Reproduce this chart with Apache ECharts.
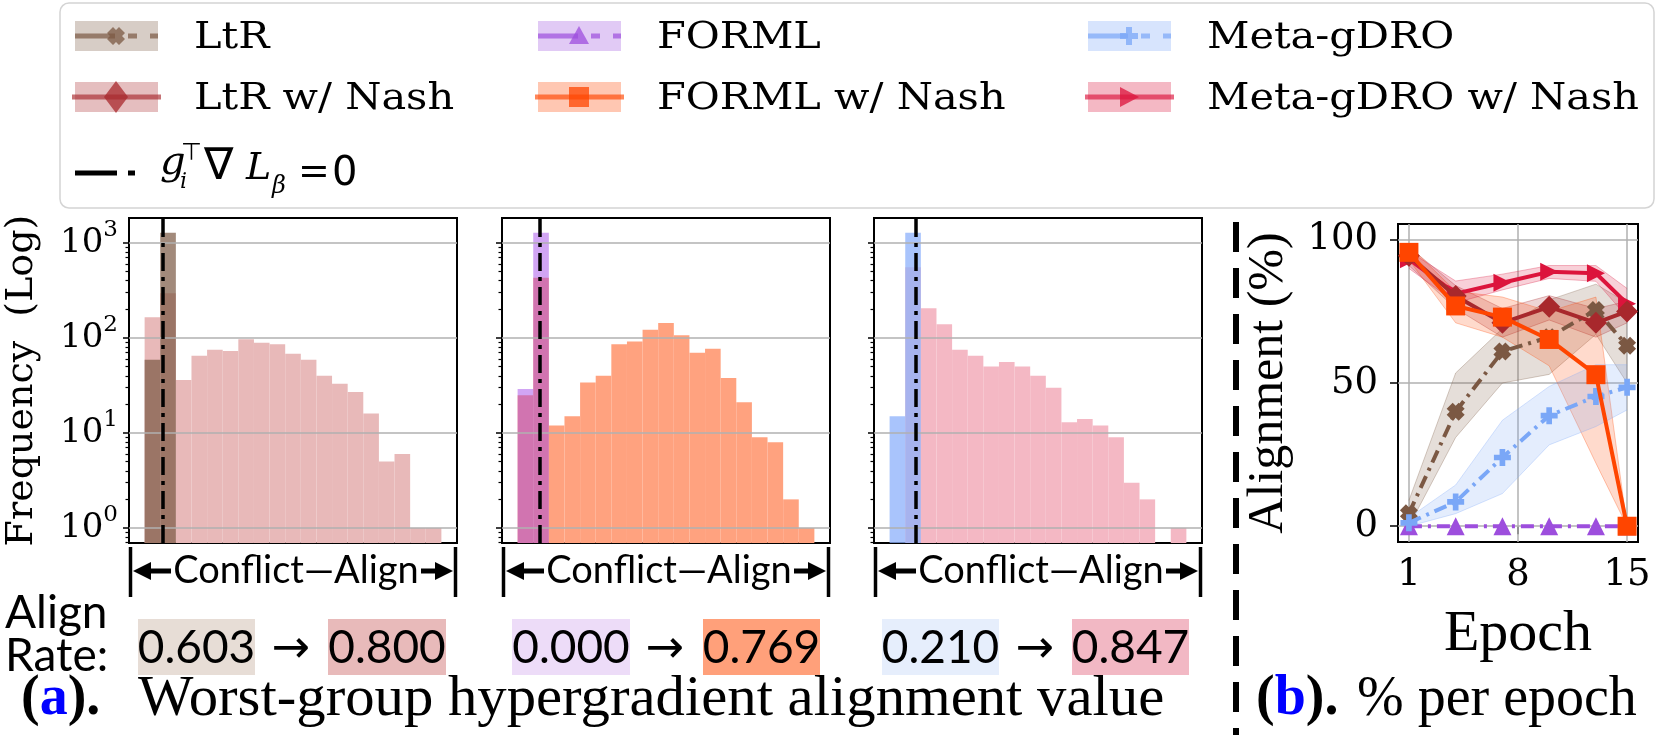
<!DOCTYPE html>
<html><head><meta charset="utf-8">
<script src="https://cdn.jsdelivr.net/npm/echarts@6/dist/echarts.min.js"></script>
<style>html,body{margin:0;padding:0;background:#fff;}#c{width:1661px;height:735px;}</style>
</head><body><div id="c"></div>
<script>
// ================= DATA =================
const methods = ['LtR', 'LtR w/ Nash', 'FORML', 'FORML w/ Nash', 'Meta-gDRO', 'Meta-gDRO w/ Nash'];
// histogram counts per bin (19 bins, null = empty)
const ltrCounts       = [59, 1280];
const ltrNashCounts   = [165, 295, 36, 65, 75, 73, 97, 89, 86, 68, 59, 40, 33, 27, 16, 5, 6, 1, 1];
const formlCounts     = [29, 1280];
const formlNashCounts = [25, 431, 12, 15, 34, 40, 86, 92, 122, 144, 107, 70, 77, 38, 21, 9, 8, 2, 1];
const metaCounts      = [15, 1280];
const metaNashCounts  = [null, 555, 205, 139, 75, 65, 50, 56, 50, 40, 30, 13, 14, 12, 9, 3, 2, null, 1];
const zeroBinPos = [2.13, 2.39, 2.65];          // position of g^T dL = 0 (bin units)
const histMajorTicks = [1, 10, 100, 1000];
const histMinorTicks = [0.7, 0.8, 0.9, 2, 3, 4, 5, 6, 7, 8, 9, 20, 30, 40, 50, 60, 70, 80, 90, 200, 300, 400, 500, 600, 700, 800, 900];
const alignBefore = ['0.603', '0.000', '0.210'];
const alignAfter  = ['0.800', '0.769', '0.847'];

// alignment % per epoch
const epochs = [1, 4, 7, 10, 13, 15];
const ltrAlign       = [4.5, 40, 61, 66, 75.5, 63];
const ltrLo          = [0, 31, 50, 53, 67, 50];
const ltrHi          = [9, 53.5, 69, 79, 84.5, 78];
const ltrNashAlign   = [94.4, 80.4, 71, 76.6, 71, 75];
const ltrNashLo      = [91, 76, 66, 72, 66, 71];
const ltrNashHi      = [97.5, 84, 76, 80.5, 76, 78.5];
const formlAlign     = [0, 0, 0, 0, 0, 0];
const formlNashAlign = [95.6, 76.9, 73, 65.2, 52.9, 0];
const formlNashLo    = [93, 71, 66, 56, 22, 0];
const formlNashHi    = [98, 82, 80, 75, 80, 0];
const metaAlign      = [1.2, 8.5, 24, 38.6, 45.3, 48.5];
const metaLo         = [0, 4.4, 11.4, 28.4, 34.8, 40.6];
const metaHi         = [3, 14.4, 37, 48.8, 56.4, 56.4];
const metaNashAlign  = [93.2, 81.2, 85, 88.8, 88.3, 77.7];
const metaNashLo     = [90, 78, 82.5, 86.5, 85.5, 73];
const metaNashHi     = [96, 85.6, 88, 91, 91, 83];
const lineXTicks = [1, 8, 15];
const lineYTicks = [0, 50, 100];

// ================= STYLE / LAYOUT =================
const C = {ltr:'#7b5843', ltrNash:'#a8282c', forml:'#9d4edd', formlNash:'#ff4500', meta:'#7aa7f7', metaNash:'#dc143c'};
const HL = [129, 502, 874], HW = 328, HT = 218, HH = 325;
const YMIN = 0.695, YMAX = 1830;
const LGR = {left:1398, top:224, width:240, height:318};
const SERIF = '"DejaVu Serif"';

const chart = echarts.init(document.getElementById('c'), null, {renderer:'canvas', width:1661, height:735});

function gridBox(l, t, w, h) {
  return {left:l, top:t, width:w, height:h, show:true, borderColor:'#000', borderWidth:2,
          backgroundColor:'rgba(0,0,0,0)', containLabel:false, outerBoundsMode:'none'};
}
const grids = HL.map(l => gridBox(l, HT, HW, HH)).concat([gridBox(LGR.left, LGR.top, LGR.width, LGR.height)]);

const xAxes = [0, 1, 2].map(i => ({gridIndex:i, type:'value', min:0, max:21, show:false}));
xAxes.push({
  gridIndex:3, type:'value', min:0.3, max:15.7,
  axisLine:{show:false}, splitLine:{show:false},
  axisTick:{show:true, customValues:lineXTicks, length:8, lineStyle:{color:'#000', width:1.5}},
  axisLabel:{customValues:lineXTicks, margin:15, color:'#000', fontFamily:SERIF, fontSize:37},
  name:'Epoch', nameLocation:'middle', nameGap:64,
  nameTextStyle:{fontFamily:'"Liberation Serif"', fontSize:58, color:'#000'}
});

const yAxes = [];
[0, 1, 2].forEach(i => {
  yAxes.push({
    gridIndex:i, type:'log', logBase:10, min:YMIN, max:YMAX, position:'left',
    axisLine:{show:false}, axisTick:{show:false}, splitLine:{show:false},
    axisLabel:{show:i === 0, showMinLabel:false, showMaxLabel:false, margin:11,
      formatter: v => '{b|10}{s|' + Math.round(Math.log10(v)) + '}',
      rich:{b:{fontFamily:SERIF, fontSize:34, lineHeight:48, verticalAlign:'middle', color:'#000'},
            s:{fontFamily:SERIF, fontSize:23, lineHeight:26, verticalAlign:'top', color:'#000'}}},
    name: i === 0 ? 'Frequency  (Log)' : '', nameLocation:'middle', nameGap:88,
    nameTextStyle:{fontFamily:SERIF, fontSize:38, color:'#000'}
  });
  // tick helper axes (log-space linear axes used only for tick marks)
  yAxes.push({gridIndex:i, type:'value', min:Math.log10(YMIN), max:Math.log10(YMAX), position:'left',
    axisLine:{show:false}, splitLine:{show:false}, axisLabel:{show:false},
    axisTick:{show:true, customValues:histMajorTicks.map(Math.log10), length:6, lineStyle:{color:'#000', width:1.5}}});
  yAxes.push({gridIndex:i, type:'value', min:Math.log10(YMIN), max:Math.log10(YMAX), position:'left',
    axisLine:{show:false}, splitLine:{show:false}, axisLabel:{show:false},
    axisTick:{show:true, customValues:histMinorTicks.map(Math.log10), length:3.5, lineStyle:{color:'#000', width:1.2}}});
});
yAxes.push({
  gridIndex:3, type:'value', min:-5.5, max:105.5, position:'left',
  axisLine:{show:false}, splitLine:{show:false},
  axisTick:{show:true, customValues:lineYTicks, length:8, lineStyle:{color:'#000', width:1.5}},
  axisLabel:{customValues:lineYTicks, margin:20, color:'#000', fontFamily:SERIF, fontSize:37},
  name:'Alignment (%)', nameLocation:'middle', nameGap:104,
  nameTextStyle:{fontFamily:'"Liberation Serif"', fontSize:50, color:'#000'}
});

function histSeries(gi, counts, color, opacity, z, markLine) {
  const data = [];
  counts.forEach((v, i) => { if (v != null) data.push([i + 1, v]); });
  const s = {
    type:'custom', xAxisIndex:gi, yAxisIndex:gi * 3, z:z, silent:true, animation:false,
    data:data, encode:{x:0, y:1},
    renderItem: function (params, api) {
      const x0 = api.value(0), v = api.value(1);
      const p0 = api.coord([x0, v]);
      const p1 = api.coord([x0 + 1, v]);
      const bottom = params.coordSys.y + params.coordSys.height;
      return {type:'rect', shape:{x:p0[0], y:p0[1], width:p1[0] - p0[0], height:bottom - p0[1]},
              style:{fill:color, opacity:opacity}};
    }
  };
  if (markLine) s.markLine = markLine;
  return s;
}
function histMarks(gi) {
  return {
    silent:true, symbol:'none', animation:false, z:5,
    label:{show:false},
    lineStyle:{color:'#b0b0b0', width:1.5, type:'solid'},
    data: histMajorTicks.map(t => ({yAxis:t})).concat([
      {xAxis:zeroBinPos[gi], lineStyle:{color:'#000', width:3.5, type:[18, 6, 4, 6]}}])
  };
}

const series = [
  histSeries(0, ltrNashCounts, '#e8b9b9', 1, 2),
  histSeries(0, ltrCounts, C.ltr, 0.7, 3, histMarks(0)),
  histSeries(1, formlNashCounts, '#ffa27f', 1, 2),
  histSeries(1, formlCounts, '#9e40e7', 0.47, 3, histMarks(1)),
  histSeries(2, metaNashCounts, '#f4b8c4', 1, 2),
  histSeries(2, metaCounts, '#8eb2fb', 0.76, 3, histMarks(2))
];

// shaded std band between lo and hi, drawn through the cartesian scales
function bandSeries(lo, hi, color) {
  return {
    type:'custom', xAxisIndex:3, yAxisIndex:9, z:1, silent:true, animation:false,
    data: epochs.map((e, i) => [e, lo[i], hi[i]]), encode:{x:0, y:[1, 2]},
    renderItem: function (params, api) {
      if (params.dataIndex !== 0) return null;
      const upper = epochs.map((e, i) => api.coord([e, hi[i]]));
      const lower = epochs.map((e, i) => api.coord([e, lo[i]]));
      return {type:'group', children:[
        {type:'polygon', shape:{points:upper.concat(lower.slice().reverse())}, style:{fill:color, opacity:0.2}},
        {type:'polyline', shape:{points:upper}, style:{stroke:color, lineWidth:1, opacity:0.3, fill:'none'}},
        {type:'polyline', shape:{points:lower}, style:{stroke:color, lineWidth:1, opacity:0.3, fill:'none'}}
      ]};
    }
  };
}
function mainLine(name, vals, color, dash, symbol, size, rot, z, markLine) {
  const s = {type:'line', name:name, xAxisIndex:3, yAxisIndex:9, data:epochs.map((e, i) => [e, vals[i]]),
    symbol:symbol, symbolSize:size, symbolRotate:rot || 0, showSymbol:true, silent:true, animation:false,
    lineStyle:{color:color, width:4, type: dash ? [13, 6, 3, 6] : 'solid'},
    itemStyle:{color:color, borderWidth:0, opacity:1}, z:z, clip:false, emphasis:{disabled:true}};
  if (markLine) s.markLine = markLine;
  return s;
}
const PATH_X = 'path://M-1,-3L0,-2L1,-3L3,-1L2,0L3,1L1,3L0,2L-1,3L-3,1L-2,0L-3,-1Z';
const PATH_P = 'path://M-1,-3L1,-3L1,-1L3,-1L3,1L1,1L1,3L-1,3L-1,1L-3,1L-3,-1L-1,-1Z';
const lineGrid = {
  silent:true, symbol:'none', animation:false, z:0.5, label:{show:false},
  lineStyle:{color:'#b0b0b0', width:1.5, type:'solid'},
  data: lineXTicks.map(t => ({xAxis:t})).concat(lineYTicks.map(t => ({yAxis:t})))
};
series.push(bandSeries(ltrLo, ltrHi, C.ltr));
series.push(bandSeries(ltrNashLo, ltrNashHi, C.ltrNash));
series.push(bandSeries(formlNashLo, formlNashHi, C.formlNash));
series.push(bandSeries(metaLo, metaHi, C.meta));
series.push(bandSeries(metaNashLo, metaNashHi, C.metaNash));
series.push(mainLine(methods[5], metaNashAlign, C.metaNash, false, 'triangle', 18, -90, 3));
series.push(mainLine(methods[0], ltrAlign, C.ltr, true, PATH_X, 18, 0, 4));
series.push(mainLine(methods[1], ltrNashAlign, C.ltrNash, false, 'diamond', 22, 0, 5));
series.push(mainLine(methods[2], formlAlign, C.forml, true, 'triangle', 18, 0, 6, lineGrid));
series.push(mainLine(methods[4], metaAlign, C.meta, true, PATH_P, 17, 0, 7));
series.push(mainLine(methods[3], formlNashAlign, C.formlNash, false, 'rect', 19, 0, 8));

// ================= GRAPHIC ANNOTATIONS =================
const G = [];
function txt(x, y, text, font, o) {
  o = o || {};
  return {type:'text', x:x, y:y, scaleX:o.scaleX || 1, z:20, silent:true,
    style:{text:text, font:font, fill:o.fill || '#000', align:o.align || 'left', textAlign:o.align || 'left',
           verticalAlign:o.va || 'middle', textVerticalAlign:o.va || 'middle', rich:o.rich}};
}
function rect(x, y, w, h, fill, op, z) {
  return {type:'rect', shape:{x:x, y:y, width:w, height:h}, style:{fill:fill, opacity:op == null ? 1 : op}, z:z || 15, silent:true};
}
function poly(cx, cy, pts, fill, op) {
  return {type:'polygon', x:cx, y:cy, shape:{points:pts}, style:{fill:fill, opacity:op == null ? 1 : op}, z:17, silent:true};
}
// legend frame
G.push({type:'rect', shape:{x:60, y:3, width:1594, height:205, r:9}, style:{fill:'#fff', stroke:'#d4d4d4', lineWidth:1.5}, z:10, silent:true});
const legendCols = [75, 538, 1088], legendRows = [36, 97];
const markerPts = {
  x: [[-1,-3],[0,-2],[1,-3],[3,-1],[2,0],[3,1],[1,3],[0,2],[-1,3],[-3,1],[-2,0],[-3,-1]].map(p => [p[0] * 3, p[1] * 3]),
  plus: [[-1,-3],[1,-3],[1,-1],[3,-1],[3,1],[1,1],[1,3],[-1,3],[-1,1],[-3,1],[-3,-1],[-1,-1]].map(p => [p[0] * 3, p[1] * 3]),
  diamond: [[0,-16],[12,0],[0,16],[-12,0]],
  tri: [[0,-10],[10,8],[-10,8]],
  square: [[-10,-10],[10,-10],[10,10],[-10,10]],
  triR: [[10,0],[-9,-10],[-9,10]]
};
const legendItems = [
  {name:methods[0], col:0, row:0, color:C.ltr, dash:true, marker:'x'},
  {name:methods[1], col:0, row:1, color:C.ltrNash, dash:false, marker:'diamond'},
  {name:methods[2], col:1, row:0, color:C.forml, dash:true, marker:'tri'},
  {name:methods[3], col:1, row:1, color:C.formlNash, dash:false, marker:'square'},
  {name:methods[4], col:2, row:0, color:C.meta, dash:true, marker:'plus'},
  {name:methods[5], col:2, row:1, color:C.metaNash, dash:false, marker:'triR'}
];
legendItems.forEach(it => {
  const ix = legendCols[it.col], cy = legendRows[it.row];
  G.push(rect(ix, cy - 15, 83, 30, it.color, 0.3));
  if (it.dash) {
    G.push(rect(ix, cy - 2.5, 40, 5, it.color, 0.7));
    G.push(rect(ix + 53, cy - 2.5, 9, 5, it.color, 0.7));
    G.push(rect(ix + 75, cy - 2.5, 8, 5, it.color, 0.7));
  } else {
    G.push(rect(ix - 3, cy - 2.5, 89, 5, it.color, 0.65));
  }
  G.push(poly(ix + 41, cy, markerPts[it.marker], it.color, 0.75));
  G.push(txt(ix + 119, cy + 2, it.name, '37px ' + SERIF, {scaleX:1.12}));
});
// g_i^T grad L_beta = 0 row
G.push(rect(75, 170.5, 42, 5, '#000', 1));
G.push(rect(128, 170.5, 7, 5, '#000', 1));
G.push(txt(160, 184, 'g', 'italic 40px ' + SERIF, {va:'bottom'}));
G.push(txt(180, 193, 'i', 'italic 22px ' + SERIF, {va:'bottom'}));
G.push(txt(181, 166, '\u22A4', '24px "DejaVu Sans"', {va:'bottom'}));
G.push(txt(204, 190, '\u2207', '44px "DejaVu Sans"', {va:'bottom'}));
G.push(txt(246, 188, 'L', 'italic 38px ' + SERIF, {va:'bottom'}));
G.push(txt(272, 199, '\u03B2', 'italic 24px ' + SERIF, {va:'bottom'}));
G.push(txt(298, 192, '=', '38px "DejaVu Sans"', {va:'bottom'}));
G.push(txt(332, 195, '0', '40px "DejaVu Sans"', {va:'bottom'}));

// Conflict / Align annotation under each histogram
HL.forEach(L => {
  const R = L + HW, y0 = 547, y1 = 597, ym = 571;
  G.push({type:'line', shape:{x1:L + 1.5, y1:y0, x2:L + 1.5, y2:y1}, style:{stroke:'#000', lineWidth:3.5}, z:15, silent:true});
  G.push({type:'line', shape:{x1:R - 1.5, y1:y0, x2:R - 1.5, y2:y1}, style:{stroke:'#000', lineWidth:3.5}, z:15, silent:true});
  G.push(poly(0, 0, [[L + 4, ym], [L + 22, ym - 9], [L + 22, ym + 9]], '#000', 1));
  G.push(rect(L + 20, ym - 2.5, 22, 5, '#000', 1));
  G.push(rect(R - 36, ym - 2.5, 15, 5, '#000', 1));
  G.push(poly(0, 0, [[R - 4, ym], [R - 22, ym - 9], [R - 22, ym + 9]], '#000', 1));
  G.push(txt(L + HW / 2 + 3, ym, 'Conflict\u2014Align', '38px Lato', {align:'center'}));
});

// Align rate row
G.push(txt(5, 613, 'Align', '46px Lato'));
G.push(txt(5, 656, 'Rate:', '46px Lato'));
const rateBoxes = [[138, 255], [328, 446], [512, 630], [703, 820], [882, 999], [1072, 1189]];
const rateColors = ['#e7ddd6', '#e8baba', '#eddcf8', '#ffa07a', '#e6eefc', '#f2b8c4'];
const rateArrowX = [291, 665, 1035];
const rateTexts = [];
alignBefore.forEach((b, i) => { rateTexts.push(b, alignAfter[i]); });
rateBoxes.forEach((bx, i) => {
  G.push(rect(bx[0], 619, bx[1] - bx[0], 56, rateColors[i], 1, 12));
  G.push(txt((bx[0] + bx[1]) / 2, 648, rateTexts[i], '46px Lato', {align:'center'}));
});
rateArrowX.forEach(x => G.push(txt(x, 650, '\u2192', '46px "DejaVu Sans"', {align:'center'})));

// captions
G.push(txt(21, 700, '{p|(}{a|a}{p|).}', 'bold 56px "Liberation Serif"',
  {rich:{p:{font:'bold 56px "Liberation Serif"', fill:'#000'}, a:{font:'bold 56px "Liberation Serif"', fill:'#0000ff'}}}));
G.push(txt(138, 700, 'Worst-group hypergradient alignment value', '57px "Liberation Serif"', {scaleX:1.03}));
G.push(txt(1256, 700, '{p|(}{a|b}{p|).}', 'bold 56px "Liberation Serif"',
  {rich:{p:{font:'bold 56px "Liberation Serif"', fill:'#000'}, a:{font:'bold 56px "Liberation Serif"', fill:'#0000ff'}}}));
G.push(txt(1357, 700, '% per epoch', '56px "Liberation Serif"'));

// separator
G.push({type:'line', shape:{x1:1236, y1:222, x2:1236, y2:735}, style:{stroke:'#000', lineWidth:6, lineDash:[30, 16]}, z:15, silent:true});

chart.setOption({
  animation:false,
  backgroundColor:'#fff',
  grid:grids, xAxis:xAxes, yAxis:yAxes, series:series,
  graphic:{elements:G}
});
</script></body></html>
